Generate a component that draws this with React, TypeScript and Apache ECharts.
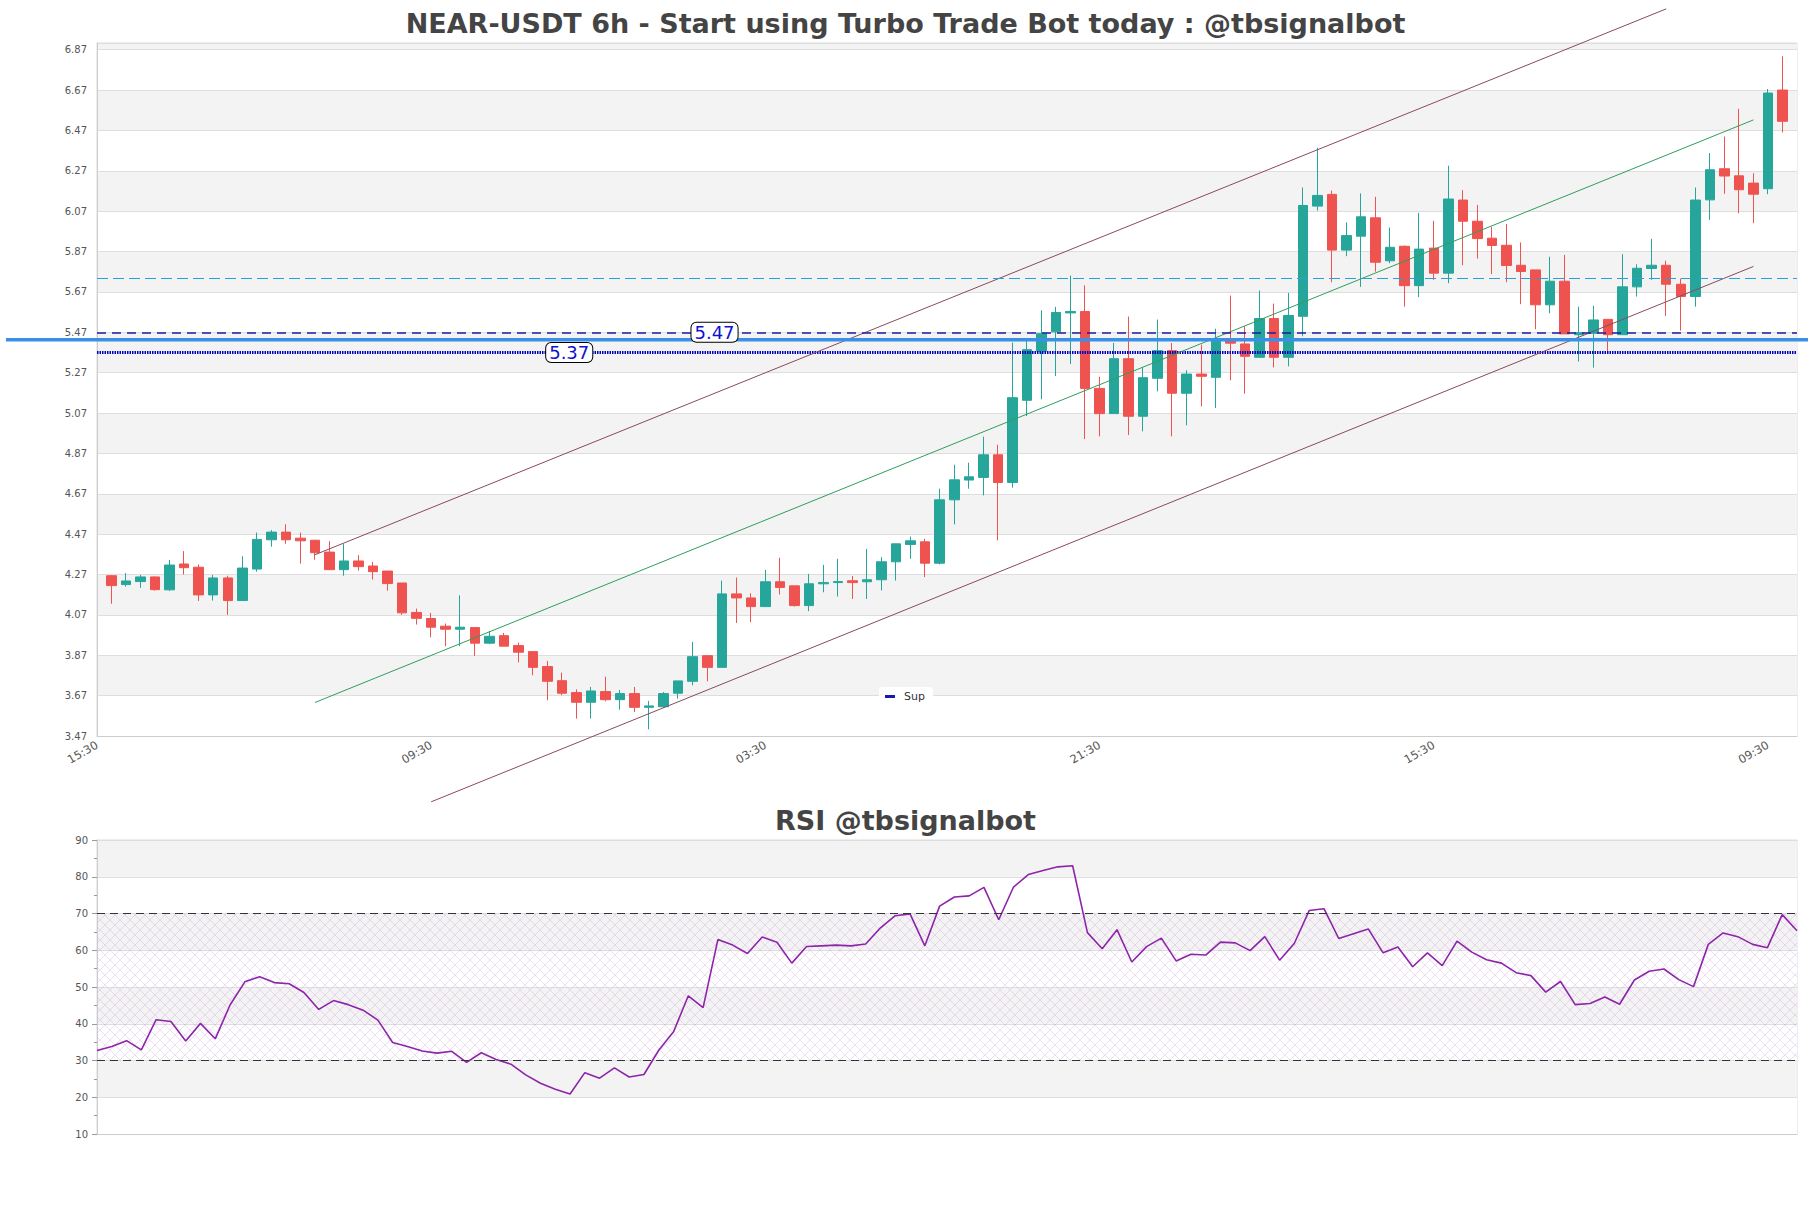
import React, { useEffect, useRef } from "react";
import * as echarts from "echarts";

// ---------- data ----------
const TIME_CYCLE = ["15:30", "21:30", "03:30", "09:30"];
const CATEGORY_COUNT = 118; // slot 0 and 117 are empty padding slots
const CATEGORIES = Array.from({ length: CATEGORY_COUNT }, (_, i) => TIME_CYCLE[i % 4]);

// candles occupy slots 1..116
const OPEN = [
  4.264, 4.22, 4.235, 4.258, 4.194, 4.322, 4.306, 4.169, 4.253, 4.141,
  4.297, 4.442, 4.48, 4.45, 4.44, 4.381, 4.294, 4.337, 4.312, 4.287,
  4.228, 4.082, 4.052, 4.014, 3.999, 4.007, 3.93, 3.967, 3.918, 3.888,
  3.814, 3.744, 3.685, 3.637, 3.69, 3.65, 3.68, 3.612, 3.615, 3.682,
  3.741, 3.868, 3.81, 4.174, 4.154, 4.111, 4.234, 4.214, 4.116, 4.224,
  4.23, 4.239, 4.234, 4.244, 4.333, 4.419, 4.432, 4.326, 4.64, 4.738,
  4.751, 4.863, 4.726, 5.133, 5.376, 5.472, 5.566, 5.573, 5.192, 5.067,
  5.339, 5.054, 5.242, 5.379, 5.168, 5.263, 5.247, 5.429, 5.412, 5.346,
  5.538, 5.346, 5.549, 6.095, 6.153, 5.877, 5.946, 6.037, 5.824, 5.896,
  5.701, 5.887, 5.763, 6.125, 6.02, 5.936, 5.901, 5.802, 5.779, 5.606,
  5.723, 5.458, 5.465, 5.534, 5.458, 5.695, 5.786, 5.802, 5.708, 5.647,
  6.126, 6.28, 6.245, 6.209, 6.181, 6.67,
];
const CLOSE = [
  4.215, 4.238, 4.258, 4.195, 4.317, 4.304, 4.169, 4.253, 4.141, 4.302,
  4.444, 4.48, 4.442, 4.437, 4.378, 4.294, 4.337, 4.309, 4.284, 4.225,
  4.08, 4.053, 4.009, 3.999, 4.009, 3.93, 3.964, 3.915, 3.885, 3.81,
  3.741, 3.682, 3.637, 3.693, 3.65, 3.68, 3.612, 3.619, 3.68, 3.743,
  3.863, 3.81, 4.174, 4.154, 4.111, 4.234, 4.206, 4.116, 4.224, 4.23,
  4.235, 4.23, 4.244, 4.333, 4.422, 4.437, 4.326, 4.64, 4.739, 4.754,
  4.863, 4.726, 5.146, 5.384, 5.463, 5.568, 5.573, 5.192, 5.067, 5.339,
  5.054, 5.245, 5.379, 5.168, 5.263, 5.252, 5.434, 5.416, 5.351, 5.538,
  5.346, 5.553, 6.098, 6.148, 5.877, 5.949, 6.042, 5.817, 5.891, 5.701,
  5.882, 5.763, 6.13, 6.02, 5.934, 5.9, 5.801, 5.771, 5.606, 5.723,
  5.462, 5.468, 5.531, 5.458, 5.695, 5.787, 5.802, 5.708, 5.647, 6.125,
  6.275, 6.244, 6.176, 6.154, 6.655, 6.515,
];
const LOW = [
  4.125, 4.21, 4.204, 4.19, 4.189, 4.27, 4.139, 4.141, 4.07, 4.141,
  4.284, 4.408, 4.422, 4.324, 4.343, 4.294, 4.264, 4.289, 4.245, 4.19,
  4.07, 4.022, 3.959, 3.915, 3.915, 3.867, 3.925, 3.915, 3.835, 3.771,
  3.647, 3.672, 3.556, 3.556, 3.642, 3.6, 3.589, 3.503, 3.609, 3.655,
  3.721, 3.741, 3.81, 4.03, 4.034, 4.111, 4.171, 4.111, 4.088, 4.182,
  4.161, 4.149, 4.149, 4.191, 4.24, 4.348, 4.257, 4.32, 4.518, 4.695,
  4.662, 4.439, 4.7, 5.055, 5.138, 5.253, 5.313, 4.941, 4.954, 5.067,
  4.961, 4.979, 5.177, 4.954, 5.009, 5.103, 5.095, 5.232, 5.166, 5.346,
  5.296, 5.301, 5.45, 6.073, 5.718, 5.847, 5.695, 5.77, 5.812, 5.597,
  5.644, 5.73, 5.713, 5.802, 5.835, 5.758, 5.718, 5.609, 5.485, 5.564,
  5.462, 5.325, 5.295, 5.366, 5.458, 5.647, 5.73, 5.551, 5.478, 5.597,
  6.027, 6.156, 6.06, 6.01, 6.154, 6.46,
];
const HIGH = [
  4.266, 4.277, 4.268, 4.26, 4.342, 4.386, 4.32, 4.268, 4.264, 4.36,
  4.478, 4.49, 4.519, 4.478, 4.44, 4.435, 4.422, 4.366, 4.332, 4.287,
  4.228, 4.101, 4.08, 4.027, 4.167, 4.007, 3.99, 3.981, 3.933, 3.888,
  3.842, 3.784, 3.701, 3.713, 3.764, 3.698, 3.713, 3.644, 3.688, 3.743,
  3.936, 3.868, 4.24, 4.255, 4.177, 4.293, 4.353, 4.214, 4.273, 4.318,
  4.348, 4.263, 4.397, 4.356, 4.422, 4.458, 4.447, 4.695, 4.814, 4.824,
  4.953, 4.913, 5.419, 5.432, 5.579, 5.596, 5.751, 5.703, 5.25, 5.417,
  5.548, 5.298, 5.533, 5.417, 5.282, 5.409, 5.488, 5.652, 5.5, 5.677,
  5.612, 5.665, 6.187, 6.384, 6.172, 6.014, 6.158, 6.141, 5.989, 5.9,
  6.062, 6.022, 6.295, 6.174, 6.101, 5.992, 6.006, 5.915, 5.779, 5.844,
  5.853, 5.597, 5.601, 5.534, 5.857, 5.807, 5.933, 5.825, 5.736, 6.187,
  6.358, 6.44, 6.577, 6.258, 6.675, 6.837,
];

const RSI = [
  32.7, 33.8, 35.4, 32.9, 41.1, 40.6, 35.3, 40.1, 35.9, 45.1,
  51.4, 52.8, 51.2, 50.9, 48.5, 43.9, 46.3, 45.2, 43.7, 41.0,
  34.9, 33.8, 32.6, 32.0, 32.5, 29.5, 32.1, 30.3, 29.0, 26.1,
  23.8, 22.2, 20.9, 26.7, 25.2, 28.0, 25.5, 26.2, 32.8, 37.8,
  47.6, 44.4, 62.9, 61.4, 59.1, 63.6, 62.2, 56.5, 61.0, 61.2,
  61.4, 61.2, 61.7, 66.1, 69.4, 69.9, 61.2, 72.0, 74.5, 74.8,
  77.1, 68.3, 77.2, 80.6, 81.7, 82.7, 83.0, 64.8, 60.4, 65.6,
  56.8, 61.0, 63.3, 57.1, 58.9, 58.7, 62.2, 62.0, 59.9, 63.7,
  57.3, 61.9, 70.8, 71.3, 63.2, 64.5, 65.8, 59.3, 60.9, 55.5,
  59.3, 55.8, 62.5, 59.5, 57.4, 56.5, 53.9, 53.1, 48.6, 51.5,
  45.2, 45.5, 47.3, 45.3, 51.9, 54.3, 54.9, 52.0, 50.1, 61.6,
  64.7, 63.7, 61.6, 60.7, 69.7, 65.3,
];
const RSI_CATEGORIES = RSI.map((_, i) => String(i));

// trend channel endpoints [slot, price]
const UPPER_LINE = [[15, 4.368], [108, 7.072]];
const MID_LINE = [[15, 3.636], [114, 6.522]];
const LOWER_LINE = [[23, 3.144], [114, 5.796]];

// horizontal levels
const RES_LEVEL = 5.74;
const LEVEL_547 = 5.47;
const SUP_LEVEL = 5.37;
const PRICE_LEVEL = 5.433;
const LABEL_547_SLOT = 42.5;
const LABEL_537_SLOT = 32.5;

const Y_MIN = 3.47;
const Y_MAX = 6.903;
const Y_STEP = 0.2;

const FONT = "DejaVu Sans";

function makeHatch(): HTMLCanvasElement {
  const c = document.createElement("canvas");
  c.width = 10;
  c.height = 10;
  const ctx = c.getContext("2d");
  if (ctx) {
    ctx.strokeStyle = "rgba(205,165,215,0.45)";
    ctx.lineWidth = 0.8;
    ctx.beginPath();
    ctx.moveTo(0, 0);
    ctx.lineTo(10, 10);
    ctx.moveTo(10, 0);
    ctx.lineTo(0, 10);
    ctx.stroke();
  }
  return c;
}

export default function App() {
  const ref = useRef<HTMLDivElement>(null);

  useEffect(() => {
    if (!ref.current) return;
    const chart = echarts.init(ref.current, undefined, { renderer: "svg" });

    const candleData: any[] = [["-", "-", "-", "-"]];
    for (let i = 0; i < OPEN.length; i++) {
      candleData.push([OPEN[i], CLOSE[i], LOW[i], HIGH[i]]);
    }

    const hatch = makeHatch();

    const option: any = {
      animation: false,
      backgroundColor: "#ffffff",
      textStyle: { fontFamily: FONT },
      title: [
        {
          text: "NEAR-USDT 6h - Start using Turbo Trade Bot today : @tbsignalbot",
          left: "center",
          top: 5,
          textStyle: { fontSize: 27, fontWeight: "bold", color: "#444444", fontFamily: FONT },
        },
        {
          text: "RSI @tbsignalbot",
          left: "center",
          top: 802,
          textStyle: { fontSize: 27, fontWeight: "bold", color: "#444444", fontFamily: FONT },
        },
      ],
      legend: {
        data: [{ name: "Sup", icon: "rect", itemStyle: { color: "#1a1aa8" } }],
        left: 879,
        top: 687,
        itemWidth: 10,
        itemHeight: 3,
        padding: [4, 8, 4, 6],
        backgroundColor: "#ffffff",
        borderRadius: 3,
        textStyle: { fontSize: 11, color: "#333333", padding: [0, 0, 0, 4], fontFamily: FONT },
      },
      grid: [
        { left: 97, top: 43, width: 1700, height: 693, show: true, borderColor: "#dddddd", backgroundColor: "transparent" },
        { left: 97, top: 840, width: 1700, height: 294, show: true, borderColor: "#dddddd", backgroundColor: "transparent" },
      ],
      xAxis: [
        {
          type: "category",
          gridIndex: 0,
          data: CATEGORIES,
          boundaryGap: false,
          axisLine: { lineStyle: { color: "#cccccc" } },
          axisTick: { show: false },
          axisLabel: { interval: 22, rotate: 30, fontSize: 11.5, color: "#555555", margin: 8 },
          splitLine: { show: false },
        },
        {
          type: "category",
          gridIndex: 1,
          data: RSI_CATEGORIES,
          boundaryGap: false,
          axisLine: { lineStyle: { color: "#cccccc" } },
          axisTick: { show: false },
          axisLabel: { show: false },
          splitLine: { show: false },
        },
      ],
      yAxis: [
        {
          type: "value",
          gridIndex: 0,
          min: Y_MIN,
          max: Y_MAX,
          interval: Y_STEP,
          axisLine: { show: true, lineStyle: { color: "#cccccc" } },
          axisTick: { show: false },
          axisLabel: {
            fontSize: 10,
            color: "#555555",
            margin: 10,
            formatter: (v: number) => {
              const k = (v - Y_MIN) / Y_STEP;
              return Math.abs(k - Math.round(k)) < 1e-6 ? v.toFixed(2) : "";
            },
          },
          splitLine: { show: true, lineStyle: { color: "#dedede" } },
          splitArea: { show: true, areaStyle: { color: ["#ffffff", "#f3f3f3"] } },
        },
        {
          type: "value",
          gridIndex: 1,
          min: 10,
          max: 90,
          interval: 10,
          axisLine: { show: true, lineStyle: { color: "#cccccc" } },
          axisTick: { show: true, length: 5, lineStyle: { color: "#999999" } },
          minorTick: { show: true, splitNumber: 2, length: 3, lineStyle: { color: "#999999" } },
          axisLabel: { fontSize: 10, color: "#555555", margin: 9 },
          splitLine: { show: true, lineStyle: { color: "#dedede" } },
          splitArea: { show: true, areaStyle: { color: ["#ffffff", "#f3f3f3"] } },
        },
      ],
      series: [
        {
          name: "NEAR",
          type: "candlestick",
          xAxisIndex: 0,
          yAxisIndex: 0,
          data: candleData,
          barWidth: 10,
          itemStyle: {
            color: "#26a69a",
            color0: "#ef5350",
            borderColor: "#26a69a",
            borderColor0: "#ef5350",
            borderWidth: 1,
          },
          markLine: {
            silent: true,
            symbol: "none",
            label: { show: false },
            data: [
              { yAxis: RES_LEVEL, lineStyle: { color: "#2a9fd8", type: [11, 5], width: 1.2 } },
              { yAxis: LEVEL_547, lineStyle: { color: "#1c1ca0", type: [9, 6], width: 1.5 } },
            ],
          },
          z: 3,
        },
        {
          name: "Sup",
          type: "line",
          xAxisIndex: 0,
          yAxisIndex: 0,
          data: [[0, SUP_LEVEL], [CATEGORY_COUNT - 1, SUP_LEVEL]],
          symbol: "none",
          silent: true,
          itemStyle: { color: "#1a1aa8" },
          lineStyle: { color: "#0000c0", width: 3, type: [1.5, 1] },
          z: 4,
        },
        {
          name: "upper",
          type: "line",
          xAxisIndex: 0,
          yAxisIndex: 0,
          data: UPPER_LINE,
          symbol: "none",
          silent: true,
          clip: false,
          lineStyle: { color: "#8a4a60", width: 1 },
          z: 4,
        },
        {
          name: "mid",
          type: "line",
          xAxisIndex: 0,
          yAxisIndex: 0,
          data: MID_LINE,
          symbol: "none",
          silent: true,
          clip: false,
          lineStyle: { color: "#2f9e5b", width: 1 },
          z: 4,
        },
        {
          name: "lower",
          type: "line",
          xAxisIndex: 0,
          yAxisIndex: 0,
          data: LOWER_LINE,
          symbol: "none",
          silent: true,
          clip: false,
          lineStyle: { color: "#8a4a60", width: 1 },
          z: 4,
        },
        {
          name: "RSI",
          type: "line",
          xAxisIndex: 1,
          yAxisIndex: 1,
          data: RSI,
          symbol: "none",
          silent: true,
          lineStyle: { color: "#8e24aa", width: 1.6 },
          itemStyle: { color: "#8e24aa" },
          markArea: {
            silent: true,
            itemStyle: { color: { image: hatch, repeat: "repeat", imageWidth: 10, imageHeight: 10 } },
            data: [[{ yAxis: 30 }, { yAxis: 70 }]],
          },
          markLine: {
            silent: true,
            symbol: "none",
            label: { show: false },
            lineStyle: { color: "#333333", type: [8, 5], width: 1.2 },
            data: [{ yAxis: 70 }, { yAxis: 30 }],
          },
          z: 3,
        },
      ],
    };

    chart.setOption(option);

    const pY = chart.convertToPixel({ gridIndex: 0 }, [0, PRICE_LEVEL]) as number[];
    const a0 = chart.convertToPixel({ gridIndex: 0 }, [Math.floor(LABEL_537_SLOT), SUP_LEVEL]) as number[];
    const a1 = chart.convertToPixel({ gridIndex: 0 }, [Math.ceil(LABEL_537_SLOT), SUP_LEVEL]) as number[];
    const b0 = chart.convertToPixel({ gridIndex: 0 }, [Math.floor(LABEL_547_SLOT), LEVEL_547]) as number[];
    const b1 = chart.convertToPixel({ gridIndex: 0 }, [Math.ceil(LABEL_547_SLOT), LEVEL_547]) as number[];
    const frac537 = LABEL_537_SLOT - Math.floor(LABEL_537_SLOT);
    const frac547 = LABEL_547_SLOT - Math.floor(LABEL_547_SLOT);

    const labelStyle = (text: string) => ({
      text,
      fill: "#1010d0",
      fontSize: 18,
      fontFamily: FONT,
      align: "center",
      verticalAlign: "middle",
      backgroundColor: "#ffffff",
      borderColor: "#000000",
      borderWidth: 1,
      borderRadius: 5,
      padding: [1, 3, 0, 3],
    });

    chart.setOption({
      graphic: [
        {
          type: "line",
          silent: true,
          z: 20,
          shape: { x1: 6, y1: pY[1], x2: 1808, y2: pY[1] },
          style: { stroke: "#3a8fe6", lineWidth: 3.5 },
        },
        {
          type: "text",
          silent: true,
          z: 30,
          x: a0[0] + (a1[0] - a0[0]) * frac537,
          y: a0[1],
          style: labelStyle("5.37"),
        },
        {
          type: "text",
          silent: true,
          z: 30,
          x: b0[0] + (b1[0] - b0[0]) * frac547,
          y: b0[1],
          style: labelStyle("5.47"),
        },
      ],
    });

    return () => {
      chart.dispose();
    };
  }, []);

  return (
    <div
      ref={ref}
      style={{ position: "absolute", left: 0, top: 0, width: 1811, height: 1208 }}
    />
  );
}
